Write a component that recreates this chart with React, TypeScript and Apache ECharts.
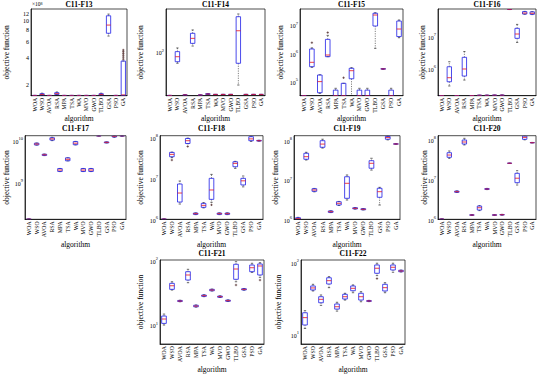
import { useEffect, useRef } from 'react';
import * as echarts from 'echarts';

const FONT = '"Liberation Serif", "Times New Roman", serif';

const algorithms = ['WOA', 'WSO', 'AVOA', 'RSA', 'MPA', 'TSA', 'WA', 'MVO', 'GWO', 'TLBO', 'GSA', 'PSO', 'GA'];

// Each row: [min, q1, median, q3, max] for one algorithm (same order as algorithms)
const f13Boxes = [
  [1.54e8, 1.54e8, 1.54e8, 1.54e8, 1.54e8],
  [1.55e8, 1.56e8, 1.58e8, 1.61e8, 1.63e8],
  [1.54e8, 1.54e8, 1.54e8, 1.54e8, 1.54e8],
  [1.56e8, 1.58e8, 1.61e8, 1.65e8, 1.68e8],
  [1.54e8, 1.54e8, 1.54e8, 1.54e8, 1.54e8],
  [1.54e8, 1.54e8, 1.54e8, 1.54e8, 1.54e8],
  [1.54e8, 1.54e8, 1.54e8, 1.54e8, 1.54e8],
  [1.54e8, 1.54e8, 1.54e8, 1.54e8, 1.54e8],
  [1.54e8, 1.54e8, 1.54e8, 1.54e8, 1.54e8],
  [1.55e8, 1.56e8, 1.58e8, 1.61e8, 1.63e8],
  [6.9e8, 7.4e8, 9.1e8, 11.5e8, 12.0e8],
  [1.54e8, 1.54e8, 1.54e8, 1.54e8, 1.54e8],
  [1.54e8, 1.54e8, 1.56e8, 3.67e8, 3.67e8],
];
const f13Outliers = [[12, 3.85e8], [12, 4.05e8], [12, 4.25e8], [12, 4.45e8], [12, 4.65e8], [12, 4.85e8]];
const f13Ticks = [2e8, 4e8, 6e8, 8e8, 10e8, 12e8];

const f14Boxes = [
  [22.2, 22.2, 22.2, 22.2, 22.2],
  [68, 71.8, 85.5, 102, 116],
  [22.6, 22.6, 22.6, 22.6, 22.6],
  [124, 136, 162, 193, 217],
  [22.5, 22.5, 22.5, 22.5, 22.5],
  [22.9, 23.0, 23.3, 23.6, 23.7],
  [23, 23, 23, 23, 23],
  [23, 23, 23, 23, 23],
  [23, 23, 23, 23, 23],
  [31.9, 68, 211, 344, 378],
  [23, 23, 23, 23, 23],
  [23, 23, 23, 23, 23],
  [23, 23, 23, 23, 23],
];
const f14Outliers: number[][] = [];

const f15Boxes = [
  [32000, 32000, 32000, 32000, 32000],
  [3.2e5, 3.36e5, 4.8e5, 1.42e6, 1.55e6],
  [3.86e4, 4.05e4, 1.0e5, 1.71e5, 1.75e5],
  [7.6e5, 7.6e5, 8.7e5, 3.1e6, 4.3e6],
  [31900, 31900, 32000, 5.0e4, 5.8e4],
  [31900, 31900, 32000, 8.7e4, 8.7e4],
  [31900, 1.26e5, 2.43e5, 2.95e5, 3.1e5],
  [31900, 31900, 32000, 5.0e4, 5.8e4],
  [31900, 31900, 32000, 5.0e4, 5.8e4],
  [1.5e6, 9.2e6, 2.25e7, 2.6e7, 2.7e7],
  [2.7e5, 2.75e5, 2.8e5, 2.88e5, 2.9e5],
  [31900, 31900, 32000, 5.0e4, 5.8e4],
  [3.55e6, 3.9e6, 7.2e6, 1.38e7, 1.5e7],
];
const f15Outliers = [[1, 2.37e6], [3, 5.4e6], [5, 1.37e5]];

const f16Boxes = [
  [1.39e5, 1.39e5, 1.39e5, 1.39e5, 1.39e5],
  [2.8e5, 3.8e5, 5.1e5, 1.13e6, 1.62e6],
  [1.39e5, 1.39e5, 1.39e5, 1.39e5, 1.39e5],
  [4.3e5, 5.75e5, 9.6e5, 2.24e6, 3.4e6],
  [1.40e5, 1.40e5, 1.40e5, 1.40e5, 1.40e5],
  [1.42e5, 1.42e5, 1.42e5, 1.42e5, 1.42e5],
  [1.42e5, 1.42e5, 1.42e5, 1.42e5, 1.42e5],
  [1.43e5, 1.43e5, 1.43e5, 1.43e5, 1.43e5],
  [1.43e5, 1.43e5, 1.43e5, 1.43e5, 1.43e5],
  [7.2e7, 7.25e7, 7.3e7, 7.35e7, 7.4e7],
  [6.6e6, 8.9e6, 1.22e7, 1.84e7, 2.45e7],
  [5.1e7, 5.2e7, 5.6e7, 6.2e7, 6.3e7],
  [5.0e7, 5.1e7, 5.5e7, 6.1e7, 6.2e7],
];
const f16Outliers: number[][] = [];

const f17Boxes = [
  [1.36e8, 1.36e8, 1.36e8, 1.36e8, 1.36e8],
  [7.8e9, 7.9e9, 8.3e9, 8.7e9, 8.8e9],
  [4.4e9, 4.45e9, 4.6e9, 4.75e9, 4.8e9],
  [1.0e10, 1.03e10, 1.1e10, 1.17e10, 1.2e10],
  [1.84e9, 1.85e9, 2.0e9, 2.17e9, 2.18e9],
  [3.3e9, 3.32e9, 3.6e9, 3.9e9, 3.92e9],
  [7.9e9, 8.0e9, 8.7e9, 9.5e9, 9.6e9],
  [1.84e9, 1.85e9, 2.0e9, 2.17e9, 2.18e9],
  [1.84e9, 1.85e9, 2.0e9, 2.17e9, 2.18e9],
  [1.3e10, 1.3e10, 1.3e10, 1.3e10, 1.3e10],
  [8.8e9, 8.85e9, 9.1e9, 9.3e9, 9.35e9],
  [1.2e10, 1.22e10, 1.27e10, 1.3e10, 1.31e10],
  [1.28e10, 1.29e10, 1.3e10, 1.305e10, 1.31e10],
];
const f17Outliers: number[][] = [];

const f18Boxes = [
  [1.01e6, 1.01e6, 1.01e6, 1.01e6, 1.01e6],
  [3.2e7, 3.37e7, 3.85e7, 4.3e7, 4.37e7],
  [2.36e6, 2.64e6, 4.38e6, 7.27e6, 8.6e6],
  [7.0e7, 7.1e7, 8.3e7, 9.4e7, 9.6e7],
  [1.3e6, 1.32e6, 1.37e6, 1.42e6, 1.44e6],
  [1.9e6, 1.96e6, 2.19e6, 2.45e6, 2.55e6],
  [2.6e6, 3.07e6, 5.2e6, 1.0e7, 1.25e7],
  [1.3e6, 1.32e6, 1.37e6, 1.42e6, 1.44e6],
  [1.3e6, 1.32e6, 1.37e6, 1.42e6, 1.44e6],
  [1.75e7, 1.92e7, 2.32e7, 2.54e7, 2.6e7],
  [6.2e6, 6.9e6, 8.7e6, 1.0e7, 1.14e7],
  [8.0e7, 8.3e7, 9.2e7, 1.04e8, 1.08e8],
  [8.1e7, 8.15e7, 8.3e7, 8.45e7, 8.5e7],
];
const f18Outliers = [[1, 2.8e7], [3, 6.0e7], [6, 2.25e6]];

const f19Boxes = [
  [1.0e6, 1.01e6, 1.04e6, 1.1e6, 1.12e6],
  [3.23e7, 3.37e7, 3.92e7, 4.78e7, 5.07e7],
  [5.0e6, 5.15e6, 5.57e6, 6.0e6, 6.1e6],
  [6.5e7, 6.8e7, 8.2e7, 1.0e8, 1.09e8],
  [1.48e6, 1.5e6, 1.56e6, 1.63e6, 1.65e6],
  [2.25e6, 2.31e6, 2.55e6, 2.8e6, 2.85e6],
  [3.1e6, 3.42e6, 8.24e6, 1.21e7, 1.34e7],
  [1.82e6, 1.84e6, 1.9e6, 1.97e6, 1.99e6],
  [1.73e6, 1.75e6, 1.8e6, 1.86e6, 1.88e6],
  [1.79e7, 1.99e7, 2.66e7, 3.1e7, 3.57e7],
  [2.31e6, 3.63e6, 5.04e6, 6.15e6, 6.5e6],
  [1.05e8, 1.09e8, 1.2e8, 1.28e8, 1.32e8],
  [8.1e7, 8.15e7, 8.24e7, 8.35e7, 8.4e7],
];
const f19Outliers: number[][] = [];

const f20Boxes = [
  [1.01e6, 1.01e6, 1.01e6, 1.01e6, 1.01e6],
  [3.38e7, 3.58e7, 4.08e7, 4.67e7, 5.15e7],
  [4.7e6, 4.75e6, 4.92e6, 5.1e6, 5.15e6],
  [7.3e7, 7.7e7, 8.65e7, 9.7e7, 1.07e8],
  [1.25e6, 1.26e6, 1.28e6, 1.3e6, 1.31e6],
  [1.65e6, 1.71e6, 1.95e6, 2.15e6, 2.2e6],
  [5.55e6, 5.6e6, 5.74e6, 5.9e6, 5.95e6],
  [1.25e6, 1.26e6, 1.28e6, 1.3e6, 1.31e6],
  [1.27e6, 1.28e6, 1.3e6, 1.32e6, 1.33e6],
  [2.52e7, 2.53e7, 2.54e7, 2.55e7, 2.56e7],
  [7.24e6, 8.27e6, 1.07e7, 1.42e7, 1.65e7],
  [9.8e7, 1.01e8, 1.13e8, 1.22e8, 1.24e8],
  [8.2e7, 8.25e7, 8.3e7, 8.4e7, 8.45e7],
];
const f20Outliers: number[][] = [];

const f21Boxes = [
  [10.0, 10.6, 12.4, 13.8, 14.8],
  [35.0, 35.9, 40.8, 44.5, 47.1],
  [23.0, 23.2, 23.6, 24.1, 24.3],
  [45.5, 50.1, 60, 67.5, 73.5],
  [19.0, 19.2, 19.7, 20.3, 20.5],
  [27.6, 27.9, 28.6, 29.3, 29.6],
  [33.8, 34.1, 35.0, 35.9, 36.2],
  [26.8, 27.0, 27.6, 28.2, 28.4],
  [23.2, 23.4, 23.9, 24.4, 24.6],
  [47.1, 51.4, 74.3, 88, 96.4],
  [34.8, 35.1, 35.9, 36.7, 37.0],
  [66, 67.5, 77.8, 85.7, 91.2],
  [55.2, 60, 82.8, 89, 93.1],
];
const f21Outliers = [[9, 41.9], [12, 50]];

const f22Boxes = [
  [12.1, 13.5, 17.1, 20, 21.4],
  [40.3, 41.6, 44.4, 47.3, 49.9],
  [25.4, 27.6, 30.8, 33.5, 35.4],
  [44.8, 50.4, 56.1, 61.6, 63.7],
  [21.1, 22.5, 24.3, 26.5, 28.0],
  [30.1, 31.1, 33.5, 36.2, 37.4],
  [38.1, 40.6, 43.9, 47.3, 48.9],
  [28.5, 30.1, 33.5, 37.4, 39.4],
  [28.6, 28.8, 29.2, 29.6, 29.8],
  [66, 71.1, 83.6, 92.9, 98.2],
  [38.1, 40.3, 44.8, 49.9, 52.6],
  [73.5, 79.1, 86.3, 92.9, 98.2],
  [74.2, 74.8, 76.6, 78.3, 78.8],
];
const f22Outliers = [[9, 60]];

const rows = [
  { top: 9, bottom: 95.7, titleY: 4, xNameGap: 18.5 },
  { top: 135.7, bottom: 219.3, titleY: 128.5, xNameGap: 21 },
  { top: 260, bottom: 344, titleY: 253.5, xNameGap: 21 },
];

const panels: any[] = [
  { title: 'C11-F13', boxes: f13Boxes, outliers: f13Outliers, row: 0, left: 31, right: 127, yMin: 1.53e8, yMax: 1.365e9, nameGap: 21, ticks: f13Ticks },
  { title: 'C11-F14', boxes: f14Boxes, outliers: f14Outliers, row: 0, left: 166, right: 265, yMin: 22, yMax: 450, nameGap: 22 },
  { title: 'C11-F15', boxes: f15Boxes, outliers: f15Outliers, row: 0, left: 300, right: 403, yMin: 31800, yMax: 3.67e7, nameGap: 16 },
  { title: 'C11-F16', boxes: f16Boxes, outliers: f16Outliers, row: 0, left: 438, right: 536, yMin: 1.38e5, yMax: 7.5e7, nameGap: 12 },
  { title: 'C11-F17', boxes: f17Boxes, outliers: f17Outliers, row: 1, left: 25, right: 126, yMin: 1.35e8, yMax: 1.31e10, nameGap: 15 },
  { title: 'C11-F18', boxes: f18Boxes, outliers: f18Outliers, row: 1, left: 160, right: 263, yMin: 1e6, yMax: 1.1e8, nameGap: 16 },
  { title: 'C11-F19', boxes: f19Boxes, outliers: f19Outliers, row: 1, left: 294, right: 400, yMin: 1e6, yMax: 1.34e8, nameGap: 15 },
  { title: 'C11-F20', boxes: f20Boxes, outliers: f20Outliers, row: 1, left: 438, right: 536, yMin: 1e6, yMax: 1.245e8, nameGap: 10 },
  { title: 'C11-F21', boxes: f21Boxes, outliers: f21Outliers, row: 2, left: 160, right: 264, yMin: 5.07, yMax: 102.6, nameGap: 16 },
  { title: 'C11-F22', boxes: f22Boxes, outliers: f22Outliers, row: 2, left: 301, right: 405, yMin: 7.33, yMax: 109, nameGap: 19 },
];

function renderBox(params: any, api: any) {
  const cs = params.coordSys;
  const band = cs.width / algorithms.length;
  const bw = band * 0.58;
  const half = bw / 2;
  const capHalf = bw / 4;
  const x = api.value(0);
  const lo = api.coord([x, api.value(1)]);
  const q1 = api.coord([x, api.value(2)]);
  const md = api.coord([x, api.value(3)]);
  const q3 = api.coord([x, api.value(4)]);
  const hi = api.coord([x, api.value(5)]);
  const cx = md[0];
  const children: any[] = [];
  const dash = { stroke: '#000', lineWidth: 0.5, lineDash: [1.2, 1.2], fill: null };
  const solid = { stroke: '#000', lineWidth: 0.6, fill: null };
  if (hi[1] < q3[1] - 0.3) {
    children.push({ type: 'line', shape: { x1: cx, y1: q3[1], x2: cx, y2: hi[1] }, style: dash });
  }
  if (lo[1] > q1[1] + 0.3) {
    children.push({ type: 'line', shape: { x1: cx, y1: q1[1], x2: cx, y2: lo[1] }, style: dash });
  }
  children.push({ type: 'line', shape: { x1: cx - capHalf, y1: hi[1], x2: cx + capHalf, y2: hi[1] }, style: solid });
  children.push({ type: 'line', shape: { x1: cx - capHalf, y1: lo[1], x2: cx + capHalf, y2: lo[1] }, style: solid });
  const h = Math.max(q1[1] - q3[1], 0.01);
  children.push({
    type: 'rect',
    shape: { x: cx - half, y: q3[1], width: bw, height: h },
    style: { fill: null, stroke: '#2a2ae8', lineWidth: 0.85 },
  });
  children.push({
    type: 'line',
    shape: { x1: cx - half, y1: md[1], x2: cx + half, y2: md[1] },
    style: { stroke: '#e8101a', lineWidth: 0.8, fill: null },
  });
  return { type: 'group', children };
}

function renderOutlier(params: any, api: any) {
  const p = api.coord([api.value(0), api.value(1)]);
  const s = 1.2;
  const st = { stroke: '#3a1010', lineWidth: 0.6, fill: null };
  return {
    type: 'group',
    children: [
      { type: 'line', shape: { x1: p[0] - s, y1: p[1], x2: p[0] + s, y2: p[1] }, style: st },
      { type: 'line', shape: { x1: p[0], y1: p[1] - s, x2: p[0], y2: p[1] + s }, style: st },
    ],
  };
}

const supRich = {
  b: { fontSize: 6, fontFamily: FONT, color: '#000', padding: [2.5, 0, 0, 0] },
  s: { fontSize: 4.5, fontFamily: FONT, color: '#000', verticalAlign: 'top' },
};

function decadeLabel(v: number) {
  const e = Math.log10(v);
  const r = Math.round(e);
  return Math.abs(e - r) < 1e-6 ? `{b|10}{s|${r}}` : '';
}

function buildOption() {
  const grid: any[] = [];
  const xAxis: any[] = [];
  const yAxis: any[] = [];
  const series: any[] = [];
  const graphic: any[] = [];
  panels.forEach((p, i) => {
    const r = rows[p.row];
    grid.push({
      left: p.left, top: r.top, width: p.right - p.left, height: r.bottom - r.top,
      show: true, borderColor: '#000', borderWidth: 0.7, backgroundColor: '#fff', containLabel: false,
    });
    xAxis.push({
      type: 'category', gridIndex: i, data: algorithms, boundaryGap: true,
      name: 'algorithm', nameLocation: 'middle', nameGap: r.xNameGap, nameMoveOverlap: false,
      nameTextStyle: { fontFamily: FONT, fontSize: 7.5, color: '#000' },
      axisLine: { lineStyle: { color: '#000', width: 0.7 } },
      axisTick: { inside: true, length: 1.8, alignWithLabel: true, lineStyle: { color: '#000', width: 0.5 } },
      axisLabel: { rotate: 90, interval: 0, fontSize: 5.8, fontFamily: FONT, color: '#000', margin: 2 },
      splitLine: { show: false },
    });
    const yLabel: any = p.ticks
      ? { fontSize: 6, fontFamily: FONT, color: '#000', margin: 2, customValues: p.ticks, formatter: (v: number) => String(Math.round(v / 1e8)) }
      : { fontFamily: FONT, color: '#000', margin: 2, formatter: decadeLabel, rich: supRich };
    yAxis.push({
      type: 'log', logBase: 10, gridIndex: i, min: p.yMin, max: p.yMax,
      name: 'objective function', nameLocation: 'middle', nameGap: p.nameGap, nameMoveOverlap: false,
      nameTextStyle: { fontFamily: FONT, fontSize: 7.5, color: '#000' },
      axisLine: { show: true, lineStyle: { color: '#000', width: 0.7 } },
      axisTick: p.ticks
        ? { inside: true, length: 2, customValues: p.ticks, lineStyle: { color: '#000', width: 0.5 } }
        : { inside: true, length: 2, lineStyle: { color: '#000', width: 0.5 } },
      axisLabel: yLabel,
      splitLine: { show: false },
    });
    series.push({
      type: 'custom', xAxisIndex: i, yAxisIndex: i, renderItem: renderBox, clip: true,
      encode: { x: 0, y: [1, 2, 3, 4, 5] },
      data: p.boxes.map((b: number[], k: number) => [k, ...b]),
    });
    series.push({
      type: 'custom', xAxisIndex: i, yAxisIndex: i, renderItem: renderOutlier, clip: true,
      encode: { x: 0, y: 1 },
      data: p.outliers,
    });
    graphic.push({
      type: 'text', x: (p.left + p.right) / 2, y: r.titleY,
      style: { text: p.title, font: `bold 7.5px ${FONT}`, fill: '#000', align: 'center', verticalAlign: 'middle' },
    });
  });
  graphic.push({
    type: 'text', x: 32, y: 1,
    style: {
      text: '×10{s|8}', fill: '#000', font: `5.5px ${FONT}`, align: 'left', verticalAlign: 'top',
      rich: { s: { fontSize: 4, fontFamily: FONT, verticalAlign: 'top', fill: '#000' } },
    },
  });
  return {
    animation: false,
    backgroundColor: '#fff',
    grid, xAxis, yAxis, series, graphic,
  };
}

export default function App() {
  const ref = useRef<HTMLDivElement>(null);
  useEffect(() => {
    if (!ref.current) return;
    const chart = echarts.init(ref.current, undefined, { renderer: 'svg', width: 550, height: 377 });
    chart.setOption(buildOption() as any);
    return () => chart.dispose();
  }, []);
  return <div ref={ref} style={{ position: 'absolute', left: 0, top: 0, width: 550, height: 377, background: '#fff' }} />;
}
